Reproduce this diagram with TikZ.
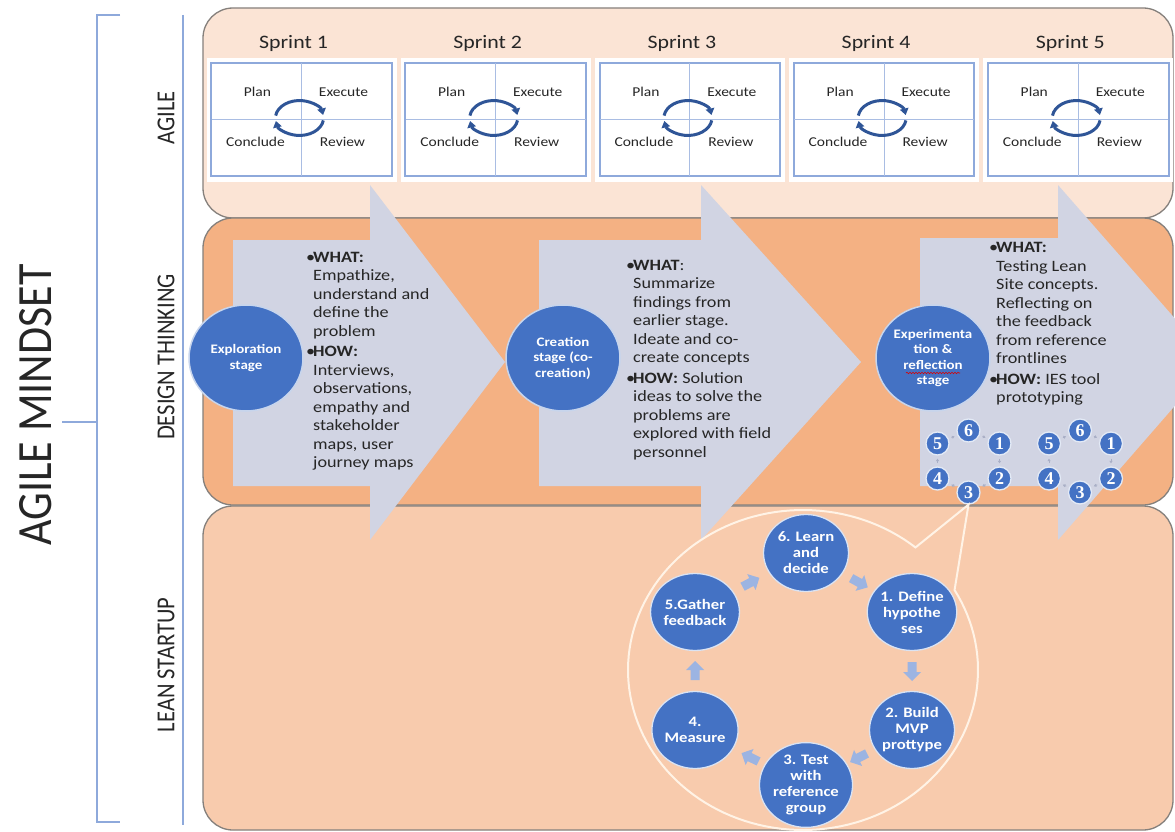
\documentclass[tikz,border=0pt]{standalone}
\usepackage{fontspec}
\setmainfont[FakeStretch=1.15]{Carlito}
\newfontfamily\lanefont{Carlito}
\newfontfamily\digitfont{Liberation Serif}
\usetikzlibrary{arrows.meta,calc,shapes.geometric,decorations.pathmorphing}

\definecolor{agilebg}{HTML}{FBE4D5}
\definecolor{dtbg}{HTML}{F4B183}
\definecolor{leanbg}{HTML}{F8CBAD}
\definecolor{chevfill}{HTML}{D1D4E3}
\definecolor{stageblue}{HTML}{4472C4}
\definecolor{rulecol}{HTML}{8EA9DB}
\definecolor{boxline}{HTML}{8EA9DB}
\definecolor{crossline}{HTML}{A9BDE3}
\definecolor{cycblue}{HTML}{2F5597}
\definecolor{leanarrow}{HTML}{9CB4E2}
\definecolor{tinyarrow}{HTML}{A9AFC6}
\definecolor{bandline}{HTML}{85807C}
\definecolor{textcol}{HTML}{262626}
\definecolor{calloutline}{HTML}{FFF3E6}

\newcommand{\bulmark}{\makebox[7pt][l]{•}}
\newcommand{\indt}{\hspace*{7pt}}

\begin{document}
\begin{tikzpicture}[x=1pt,y=-1pt,
  band/.style={draw=bandline, line width=1.3pt, rounded corners=30pt},
  rulel/.style={draw=rulecol, line width=1.2pt},
  lane/.style={rotate=90, text=textcol, inner sep=0pt},
  chevron/.style={fill=chevfill, draw=none},
  sprintbox/.style={draw=boxline, line width=1.3pt, fill=white, minimum width=180pt, minimum height=113pt, inner sep=0pt},
  crossl/.style={draw=crossline, line width=0.9pt},
  sprinttitle/.style={text=textcol, font=\fontsize{19}{22}\selectfont, inner sep=0pt},
  phase/.style={text=textcol, font=\fontsize{13.5}{16}\selectfont, inner sep=0pt},
  cycarrow/.style={draw=cycblue, line width=3pt, -{Triangle[length=6.5pt,width=8.5pt]}},
  stage/.style={ellipse, fill=stageblue, draw=white!70!stageblue, line width=1.5pt, text=white,
    font=\bfseries\fontsize{13}{15.5}\selectfont, align=center, minimum width=114pt, minimum height=106pt, inner sep=0pt},
  body/.style={text=textcol, font=\fontsize{15.8}{18.5}\selectfont, align=left, inner sep=0pt},
  num/.style={circle, fill=stageblue, draw=white!85!stageblue, line width=1.3pt, text=white,
    font=\digitfont\bfseries\fontsize{18}{18}\selectfont, minimum size=23pt, inner sep=0pt},
  tiny/.style={draw=tinyarrow, line width=1pt, -{Triangle[length=2.5pt,width=3pt]}, shorten <=3pt, shorten >=3pt},
  leancirc/.style={ellipse, fill=stageblue, draw=white!80!stageblue, line width=1.3pt, text=white,
    font=\bfseries\fontsize{14.5}{16}\selectfont, align=center, minimum width=85pt, minimum height=77pt, inner sep=0pt},
  callout/.style={draw=calloutline, line width=2pt},
  flowarrow/.pic={\fill[leanarrow] (-9,-4.5) -- (1,-4.5) -- (1,-9) -- (10,0) -- (1,9) -- (1,4.5) -- (-9,4.5) -- cycle;}
]
\useasboundingbox (0,0) rectangle (1175,832);
\fill[white] (0,0) rectangle (1175,832);
\clip (0,0) rectangle (1175,832);

% ---- bracket and lane titles ----
\coordinate (brtop) at (120,15);
\coordinate (brbot) at (120,822);
\coordinate (brmid) at (62,422);
\draw[rulel] (brtop) -- (97,15) -- (97,822) -- (brbot);
\draw[rulel] (brmid) -- (97,422);
\coordinate (lanetop) at (183,15);
\coordinate (lanebot) at (183,825);
\draw[rulel] (lanetop) -- (lanebot);

\node[lane, font=\lanefont\fontsize{44}{44}\selectfont] (mindset) at (36,405) {\scalebox{1}[1.12]{AGILE MINDSET}};
\node[lane, font=\lanefont\fontsize{22.5}{24}\selectfont] (lagile) at (166,118) {\scalebox{1}[1.15]{AGILE}};
\node[lane, font=\lanefont\fontsize{22.5}{24}\selectfont] (ldesign) at (166,357) {\scalebox{1}[1.15]{DESIGN THINKING}};
\node[lane, font=\lanefont\fontsize{22.5}{24}\selectfont] (llean) at (166,665) {\scalebox{1}[1.15]{LEAN STARTUP}};

% ---- swim lanes ----
\draw[band, fill=agilebg] (203,8) rectangle (1173,218);
\draw[band, fill=dtbg] (203,218) rectangle (1173,505);
\draw[band, fill=leanbg] (203,506) rectangle (1173,830);

% ---- design thinking chevrons ----
\fill[chevron] (233,240) -- (370,240) -- (370,185) -- (505,362) -- (370,540) -- (370,486) -- (233,486) -- cycle;
\fill[chevron] (539,240) -- (701,240) -- (701,185) -- (861,362) -- (701,540) -- (701,486) -- (539,486) -- cycle;
\fill[chevron] (920,238) -- (1058,238) -- (1058,185) -- (1213,362) -- (1058,540) -- (1058,486) -- (920,486) -- cycle;

% ---- sprints ----
\foreach \i in {1,...,5}{
  \pgfmathsetmacro{\cx}{301.5+194.2*(\i-1)}
  \fill[white] (\cx-95,58) rectangle (\cx+95,182);
  \node[sprintbox] (sp\i) at (\cx,119.5) {};
  \draw[crossl] (sp\i.north) -- (sp\i.south);
  \draw[crossl] (sp\i.west) -- (sp\i.east);
  \draw[draw=boxline, line width=1.3pt] (sp\i.north west) rectangle (sp\i.south east);
  \node[sprinttitle] (st\i) at (\cx-8,43) {Sprint \i};
  \node[phase] (pl\i) at (\cx-44,92) {Plan};
  \node[phase] (ex\i) at (\cx+42,92) {Execute};
  \node[phase] (co\i) at (\cx-46,142) {Conclude};
  \node[phase] (re\i) at (\cx+41,142) {Review};
  \coordinate (cy\i) at (\cx-2,118);
  \draw[cycarrow] (cy\i) ++(-23.8,-2.4) arc[start angle=172, end angle=10, x radius=24pt, y radius=17.5pt];
  \draw[cycarrow] (cy\i) ++(23.8,2.4) arc[start angle=-8, end angle=-170, x radius=24pt, y radius=17.5pt];
}

% ---- design thinking stages ----
\node[stage] (explo) at (246,358) {Exploration\\stage};
\node[stage] (creat) at (563,358) {Creation\\stage (co-\\creation)};
\node[stage] (exper) at (933,358) {Experimenta\\tion \&\\reflection\\stage};
\draw[red!85!black, line width=0.6pt, decorate, decoration={snake, amplitude=0.7pt, segment length=3pt}]
  (exper.center) ++(-27,15) -- ++(54,0);

\node[body, anchor=west] (txt1) at (306,361) {%
\bulmark\textbf{WHAT:}\\
\indt Empathize,\\
\indt understand and\\
\indt define the\\
\indt problem\\[2pt]
\bulmark\textbf{HOW:}\\
\indt Interviews,\\
\indt observations,\\
\indt empathy and\\
\indt stakeholder\\
\indt maps, user\\
\indt journey maps};

\node[body, anchor=west] (txt2) at (626,360) {%
\bulmark\textbf{WHAT}:\\
\indt Summarize\\
\indt findings from\\
\indt earlier stage.\\
\indt Ideate and co-\\
\indt create concepts\\[2pt]
\bulmark\textbf{HOW:} Solution\\
\indt ideas to solve the\\
\indt problems are\\
\indt explored with field\\
\indt personnel};

\node[body, anchor=west] (txt3) at (989,324) {%
\bulmark\textbf{WHAT:}\\
\indt Testing Lean\\
\indt Site concepts.\\
\indt Reflecting on\\
\indt the feedback\\
\indt from reference\\
\indt frontlines\\[2pt]
\bulmark\textbf{HOW:} IES tool\\
\indt prototyping};

% ---- small lean cycles inside the experimentation stage ----
\foreach \g/\gx in {a/968.5, b/1080}{
  \node[num] (\g6) at (\gx,430.5) {6};
  \node[num] (\g1) at (\gx+31,443.5) {1};
  \node[num] (\g2) at (\gx+31,478.5) {2};
  \node[num] (\g3) at (\gx,492.5) {3};
  \node[num] (\g4) at (\gx-31,478.5) {4};
  \node[num] (\g5) at (\gx-31,443.5) {5};
  \draw[tiny] (\g6) -- (\g1);
  \draw[tiny] (\g1) -- (\g2);
  \draw[tiny] (\g2) -- (\g3);
  \draw[tiny] (\g3) -- (\g4);
  \draw[tiny] (\g4) -- (\g5);
  \draw[tiny] (\g5) -- (\g6);
}

% ---- lean startup callout ----
\coordinate (calltip) at (a3.south);
\draw[callout] (calltip) -- plot[domain=50:390, samples=140, variable=\t] ({803+175*cos(\t)},{670-160*sin(\t)}) -- cycle;

% ---- build-measure-learn loop ----
\node[leancirc] (l6) at (806,553) {6. Learn\\and\\decide};
\node[leancirc] (l1) at (912,612) {1. Define\\hypothe\\ses};
\node[leancirc] (l2) at (912,730) {2. Build\\MVP\\prottype};
\node[leancirc] (l3) at (806,785) {3. Test\\with\\reference\\group};
\node[leancirc] (l4) at (695,730) {4.\\Measure};
\node[leancirc] (l5) at (695,612) {5.Gather\\feedback};

\path ($(l6)!0.5!(l1)$) pic[rotate=-29] {flowarrow};
\path ($(l1)!0.5!(l2)$) pic[rotate=-90] {flowarrow};
\path ($(l2)!0.5!(l3)$) pic[rotate=-153] {flowarrow};
\path ($(l3)!0.5!(l4)$) pic[rotate=154] {flowarrow};
\path ($(l4)!0.5!(l5)$) pic[rotate=90] {flowarrow};
\path ($(l5)!0.5!(l6)$) pic[rotate=28] {flowarrow};
\end{tikzpicture}
\end{document}
